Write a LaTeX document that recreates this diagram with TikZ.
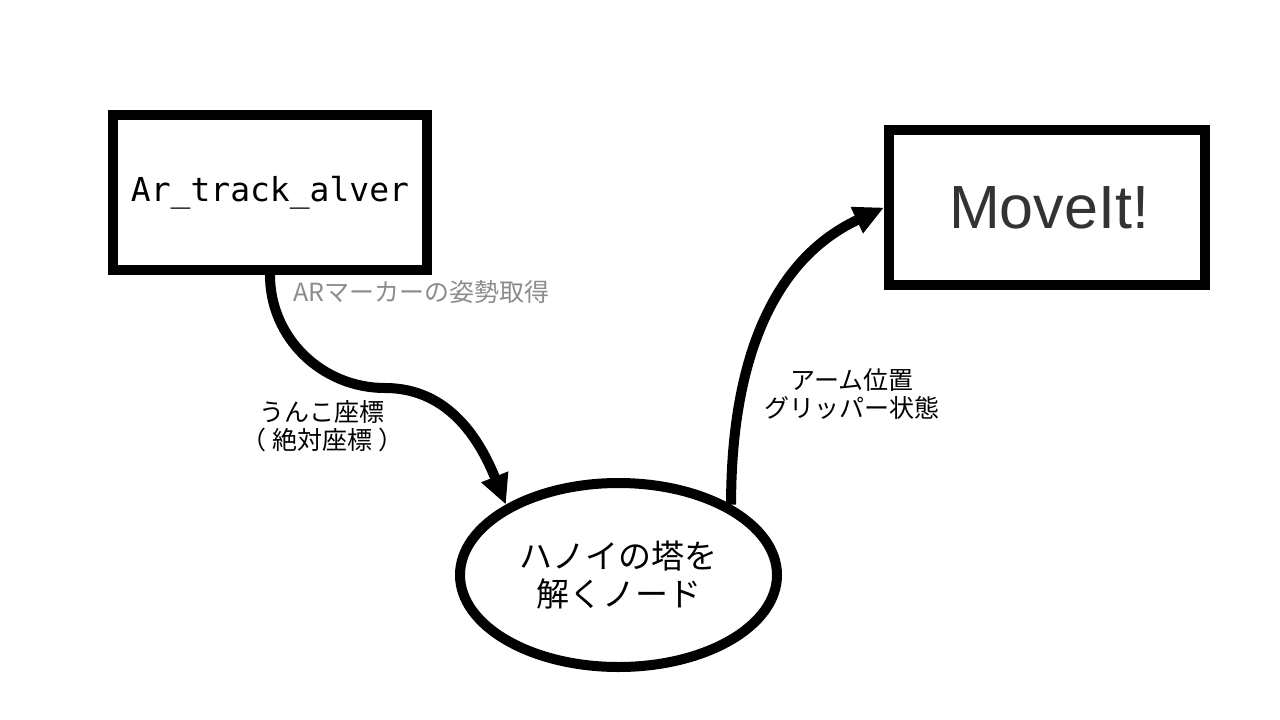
\documentclass[tikz,border=0pt]{standalone}
\usepackage{fontspec}
\usepackage{tikz}
\usetikzlibrary{shapes.geometric, arrows.meta, positioning}
\newfontfamily\jpfont{Noto Sans CJK JP}
\newfontfamily\arfont{DejaVu Sans Mono}
\newfontfamily\mvfont{Liberation Sans}
\definecolor{labelgray}{rgb}{0.55,0.55,0.55}
\definecolor{movegray}{rgb}{0.2,0.2,0.2}

\tikzset{
	box/.style = {draw, line width=10pt, minimum width=314pt, minimum height=155pt, inner sep=0pt},
	flow/.style = {line width=10pt, -{Triangle[length=30pt,width=27pt]}},
	lbl/.style = {font=\jpfont\fontsize{25}{28}\selectfont, align=center}
}

\begin{document}
\begin{tikzpicture}[x=1pt,y=1pt]
		\useasboundingbox (0,0) rectangle (1280,-720);
		
		%----------------------------------------------------------------
		\node(artrack) [box] at (270,-192.5) {\arfont\fontsize{33}{36}\selectfont Ar\_track\_alver};
		\node(moveit) [box, minimum width=316pt] at (1047,-207.5) {\mvfont\fontsize{61}{70}\selectfont\color{movegray}\hspace{4pt}MoveIt!};
		\node(hanoi) [draw, ellipse, line width=10pt, minimum width=317pt, minimum height=184pt, inner sep=0pt, align=center, font=\jpfont\fontsize{33}{38}\selectfont] at (618.5,-575) {ハノイの塔を\\解くノード};
		
		%----------------------------------------------------------------
		\coordinate(bend) at (385,-388);
		\draw [flow] (artrack.south) to[out=-90,in=180] (bend) to[out=0,in=112] (hanoi.148);
		\draw [flow] (hanoi.32) to[out=90,in=205] (moveit.west);
		
		%----------------------------------------------------------------
		\node(marker) [lbl, labelgray, anchor=west] at (290,-292) {ARマーカーの姿勢取得};
		\node(coord) [lbl] at (322,-426) {うんこ座標\\（\hspace{6pt}絶対座標\hspace{6pt}）};
		\node(arm) [lbl] at (852,-394) {アーム位置\\グリッパー状態};
		
	\end{tikzpicture}
\end{document}
